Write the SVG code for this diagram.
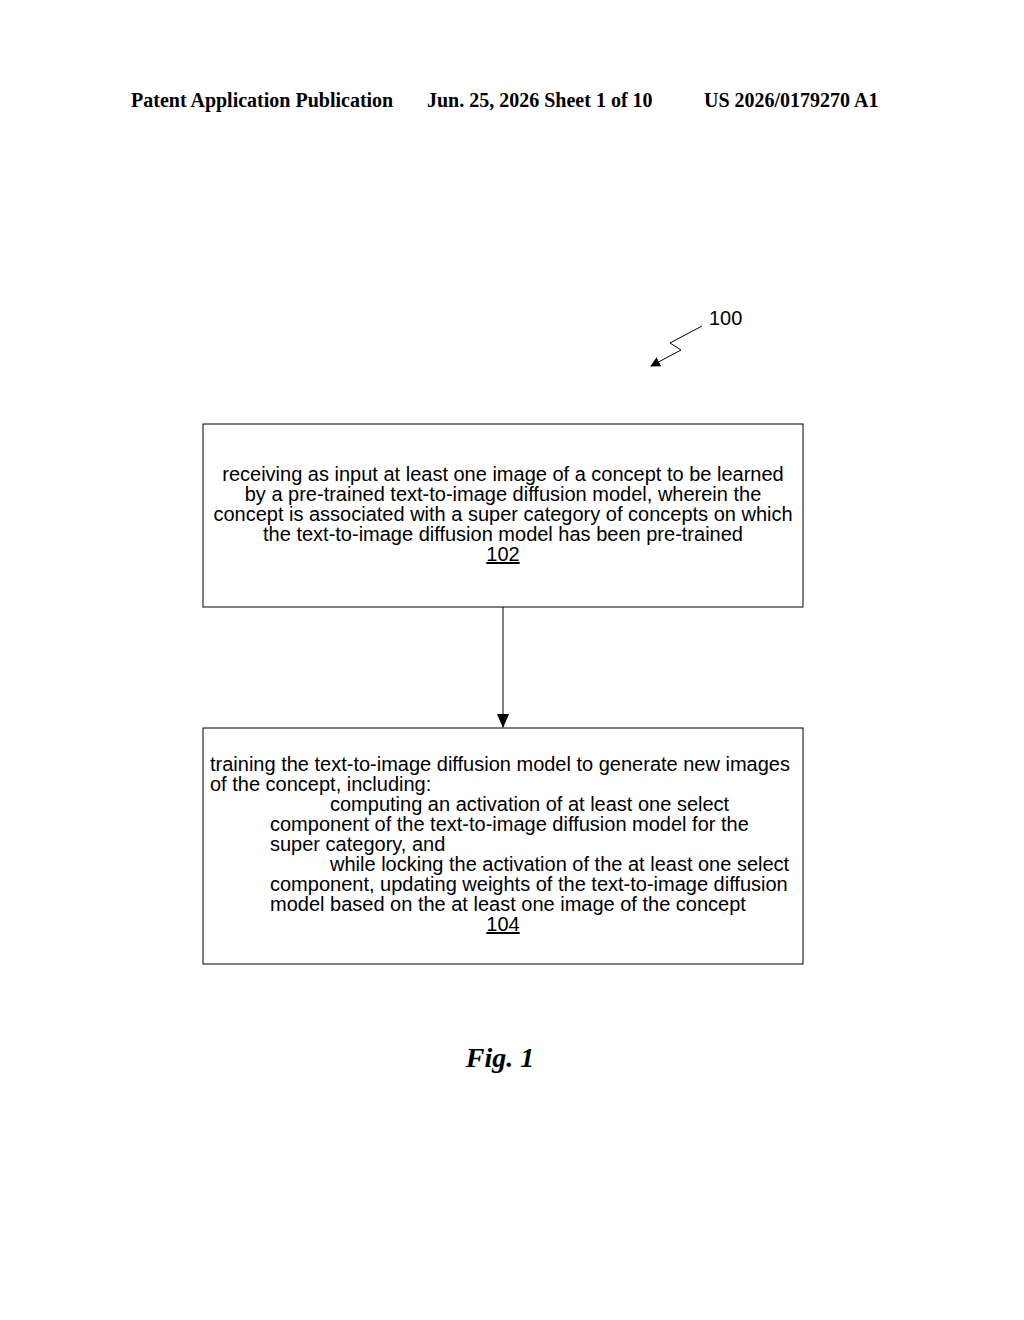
<svg xmlns="http://www.w3.org/2000/svg" width="1024" height="1320" viewBox="0 0 1024 1320">
<style>
.h{font-family:"Liberation Serif",serif;font-weight:bold;font-size:20px}
.t{font-family:"Liberation Sans",Arial,sans-serif;font-size:20px}
.box{fill:none;stroke:#000;stroke-width:1}
</style>
<defs><marker id="a" markerWidth="10" markerHeight="10" refX="9" refY="5" orient="auto" markerUnits="userSpaceOnUse"><path d="M0,0 L10,5 L0,10 z"/></marker>
<marker id="b" markerWidth="14" markerHeight="12" refX="13" refY="6" orient="auto" markerUnits="userSpaceOnUse"><path d="M0,0 L14,6 L0,12 z"/></marker></defs>
<rect width="1024" height="1320" fill="#fff"/>
<text class="h" x="131" y="107">Patent Application Publication</text>
<text class="h" x="427" y="107">Jun. 25, 2026  Sheet 1 of 10</text>
<text class="h" x="704" y="107">US 2026/0179270 A1</text>
<g id="ref100"><text class="t" x="709" y="325" font-size="18">100</text>
<path d="M702,326 L670,343 L681,350 L651,366" fill="none" stroke="#000" marker-end="url(#a)"/></g>
<g id="n102"><rect class="box" x="203" y="424" width="600" height="183"/>
<text class="t" text-anchor="middle"><tspan x="503" y="481">receiving as input at least one image of a concept to be learned</tspan><tspan x="503" y="501">by a pre-trained text-to-image diffusion model, wherein the</tspan><tspan x="503" y="521">concept is associated with a super category of concepts on which</tspan><tspan x="503" y="541">the text-to-image diffusion model has been pre-trained</tspan><tspan x="503" y="561" text-decoration="underline">102</tspan></text></g>
<g id="n104"><rect class="box" x="203" y="728" width="600" height="236"/>
<text class="t"><tspan x="210" y="771">training the text-to-image diffusion model to generate new images</tspan><tspan x="210" y="791">of the concept, including:</tspan><tspan x="330" y="811">computing an activation of at least one select</tspan><tspan x="270" y="831">component of the text-to-image diffusion model for the</tspan><tspan x="270" y="851">super category, and</tspan><tspan x="330" y="871">while locking the activation of the at least one select</tspan><tspan x="270" y="891">component, updating weights of the text-to-image diffusion</tspan><tspan x="270" y="911">model based on the at least one image of the concept</tspan></text>
<text class="t" x="503" y="931" text-anchor="middle" text-decoration="underline">104</text></g>
<g id="connectors"><line x1="503" y1="607" x2="503" y2="727" stroke="#000" marker-end="url(#b)"/></g>
<text x="500" y="1067" text-anchor="middle" font-family="Liberation Serif,serif" font-style="italic" font-weight="bold" font-size="28">Fig. 1</text>
</svg>
